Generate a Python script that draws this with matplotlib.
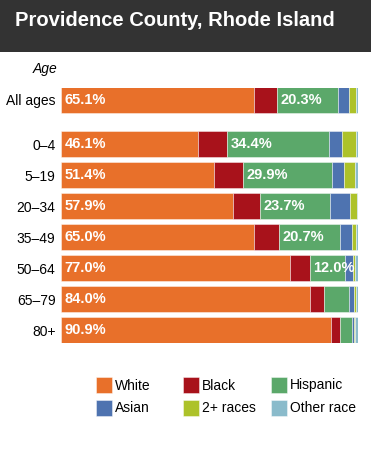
import matplotlib
matplotlib.use("Agg")
import matplotlib.pyplot as plt
from matplotlib.patches import Rectangle
import numpy as np

plt.rcParams['font.family'] = ['Liberation Sans', 'DejaVu Sans']

# --- data (percent of each age group) ---
age_groups = ['All ages', '0\u20134', '5\u201319', '20\u201334', '35\u201349', '50\u201364', '65\u201379', '80+']
races = ['White', 'Black', 'Hispanic', 'Asian', '2+ races', 'Other race']
white    = [65.1, 46.1, 51.4, 57.9, 65.0, 77.0, 84.0, 90.9]
black    = [7.7, 9.8, 10.0, 9.0, 8.4, 6.7, 4.7, 3.1]
hispanic = [20.3, 34.4, 29.9, 23.7, 20.7, 12.0, 8.3, 4.1]
asian    = [4.0, 4.3, 4.0, 6.6, 3.8, 2.5, 1.8, 0.7]
multi    = [2.2, 4.7, 3.8, 2.3, 1.3, 0.8, 0.4, 0.3]
other    = [0.7, 0.7, 0.9, 0.5, 0.8, 1.0, 0.8, 0.9]
# labelled series: white and hispanic (hispanic label only where wide enough)
hisp_labelled = [True, True, True, True, True, True, False, False]

colors = ['#E8702A', '#A8121B', '#5BA86A', '#4E73B0', '#ADC22A', '#8ABBCB']

W, H = 371, 458
fig = plt.figure(figsize=(W / 100, H / 100), dpi=100)

# title band
fig.patches.append(Rectangle((0, 1 - 52 / H), 1, 52 / H, transform=fig.transFigure,
                             facecolor='#333333', edgecolor='none', zorder=0))
fig.text(15 / W, 1 - 26 / H, 'Providence County, Rhode Island', color='white',
         fontsize=14.5, fontweight='bold', ha='left', va='baseline')

# bar axes: x 61..358 px, y 87.5..342.5 px
ax = fig.add_axes([61 / W, 1 - 342.5 / H, 297 / W, 255 / H])
ypos = np.array([0, 1.42, 2.42, 3.42, 4.42, 5.42, 6.42, 7.42])
series = [white, black, hispanic, asian, multi, other]
left = np.zeros(len(age_groups))
for vals, col in zip(series, colors):
    ax.barh(ypos, vals, left=left, height=0.81, color=col,
            edgecolor=(1, 1, 1, 0.5), linewidth=0.6)
    left += np.array(vals)

for i, y in enumerate(ypos):
    ax.text(1.2, y, f'{white[i]:.1f}%', color='white', fontsize=10.5,
            fontweight='bold', va='center', ha='left')
    if hisp_labelled[i]:
        x0 = white[i] + black[i]
        ax.text(x0 + 1.2, y, f'{hispanic[i]:.1f}%', color='white', fontsize=10.5,
                fontweight='bold', va='center', ha='left')

ax.set_xlim(0, 100)
ax.set_ylim(7.823, -0.403)
ax.set_yticks(ypos)
ax.set_yticklabels(age_groups, fontsize=10)
ax.tick_params(axis='y', length=0, pad=4)
ax.set_xticks([])
for s in ax.spines.values():
    s.set_visible(False)
ax.text(-1.3, -1.0, 'Age', fontsize=10, style='italic', ha='right', va='center')

# legend
col_x = [96, 183, 271]
row_y = [377, 400]
for k, (name, col) in enumerate(zip(races, colors)):
    cx = col_x[k % 3]
    ry = row_y[k // 3]
    fig.patches.append(Rectangle((cx / W, 1 - (ry + 16) / H), 16 / W, 16 / H,
                                 transform=fig.transFigure, facecolor=col,
                                 edgecolor=(1, 1, 1, 0.5), linewidth=0.6))
    fig.text((cx + 19) / W, 1 - (ry + 8.5) / H, name, fontsize=10,
             ha='left', va='center')

fig.savefig('out.png', dpi=100)
